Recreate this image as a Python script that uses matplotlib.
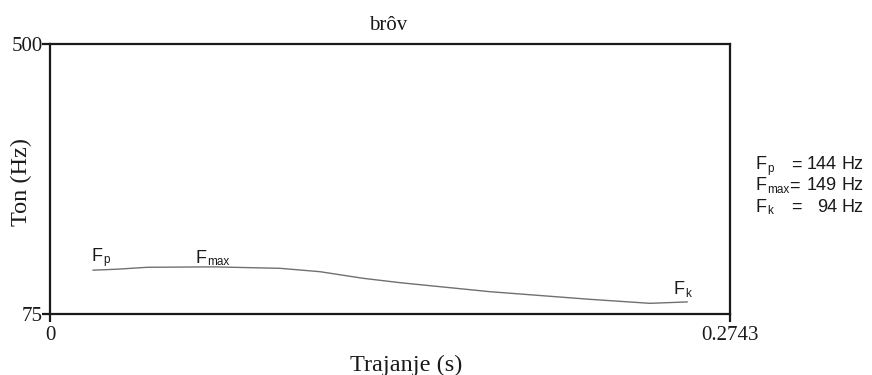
import matplotlib
matplotlib.use("Agg")
import matplotlib.pyplot as plt

# data
title = "brôv"
t = [0.0174, 0.0270, 0.0391, 0.0658, 0.0928, 0.1089, 0.1263, 0.1412, 0.1775, 0.2178, 0.2420, 0.2570]
f0 = [144.0, 145.5, 148.5, 149.2, 146.9, 141.6, 131.2, 124.3, 110.1, 98.1, 91.8, 94.0]
xlim = (0.0, 0.2743)
ylim = (75, 500)
xticks = [0, 0.2743]
xticklabels = ["0", "0.2743"]
yticks = [75, 500]
yticklabels = ["75", "500"]
subs = ["p", "max", "k"]
values = ["144", "149", "94"]

W, H = 872, 375
fig = plt.figure(figsize=(W / 100, H / 100), dpi=100)
ax = fig.add_axes([50 / W, 61 / H, 680 / W, 270 / H])
ax.plot(t, f0, color="#707070", lw=1.0)
ax.set_xlim(*xlim)
ax.set_ylim(*ylim)
ax.set_xticks(xticks)
ax.set_xticklabels(xticklabels)
ax.set_yticks(yticks)
ax.set_yticklabels(yticklabels)
ink = "#1a1a1a"
for s in ax.spines.values():
    s.set_linewidth(1.6)
    s.set_color(ink)
ax.tick_params(length=6, width=1.6, labelsize=15, colors=ink)
ax.tick_params(axis="x", pad=3)
ax.tick_params(axis="y", pad=-1)
for lab in ax.get_xticklabels() + ax.get_yticklabels():
    lab.set_family("Liberation Serif")

serif = "Liberation Serif"
fig.text(388 / W, 1 - 30.5 / H, title, family=serif, fontsize=15,
         ha="center", va="baseline", color=ink)
fig.text(406 / W, 1 - 371.5 / H, "Trajanje (s)", family=serif, fontsize=17.5,
         ha="center", va="baseline", color=ink)
fig.text(21 / W, 1 - 182.5 / H, "Ton (Hz)", family=serif, fontsize=17.5,
         ha="center", va="center", rotation=90, color=ink)

sans = "Liberation Sans"
fs = 13
sfs = 8.5


def add_sub(ftxt, sub):
    """Place a small subscript right after the 'F' text artist."""
    ax.annotate(sub, xy=(1, 0), xycoords=ftxt, xytext=(0.6, -1.0),
                textcoords="offset points", family=sans, fontsize=sfs,
                color=ink, ha="left", va="bottom", annotation_clip=False)


imax = f0.index(max(f0))
anchors = [(t[0], f0[0], (-1, 4)), (t[imax], f0[imax], (-13, 0)), (t[-1], f0[-1], (-10, 2.5))]
for sub, (x0, y0, off) in zip(subs, anchors):
    ft = ax.annotate("F", xy=(x0, y0), xytext=off, textcoords="offset points",
                     family=sans, fontsize=fs, color=ink, ha="left", va="bottom")
    add_sub(ft, sub)

ys = [165, 186, 207]
eqx = [791, 789, 791]
for sub, val, y, ex in zip(subs, values, ys, eqx):
    yy = 1 - y / H
    ft = fig.text(755 / W, yy, "F", family=sans, fontsize=fs, va="center", ha="left", color=ink)
    add_sub(ft, sub)
    fig.text(ex / W, yy, "=", family=sans, fontsize=fs, va="center", ha="left", color=ink)
    fig.text(837 / W, yy, val, family=sans, fontsize=fs, va="center", ha="right", color=ink)
    fig.text(841 / W, yy, "Hz", family=sans, fontsize=fs, va="center", ha="left", color=ink)

fig.savefig("out.png", dpi=100)
